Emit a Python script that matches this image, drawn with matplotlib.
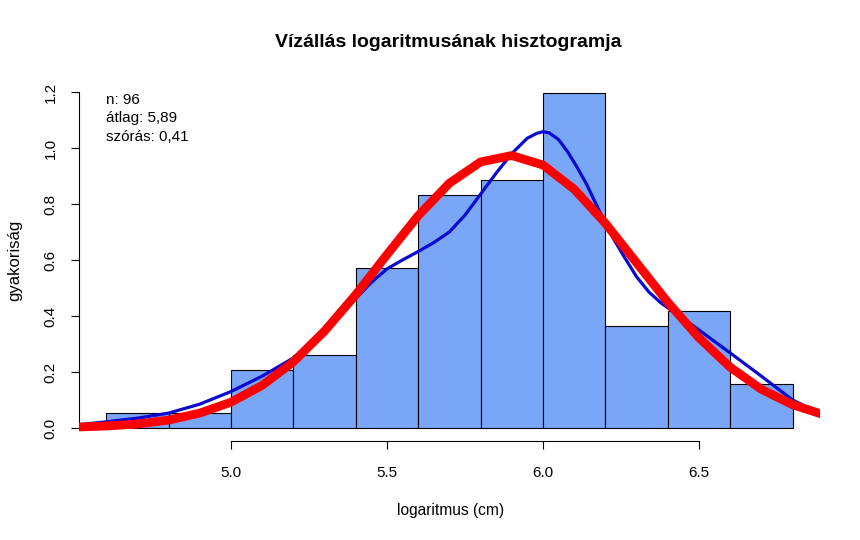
import matplotlib
matplotlib.use('Agg')
import matplotlib.pyplot as plt
import numpy as np

plt.rcParams['font.family'] = ['Liberation Sans', 'DejaVu Sans']

# histogram (density scale), breaks of 0.2
breaks = [4.6, 4.8, 5.0, 5.2, 5.4, 5.6, 5.8, 6.0, 6.2, 6.4, 6.6, 6.8]
counts = [1, 1, 4, 5, 11, 16, 17, 23, 7, 8, 3]
n_obs = 96

# kernel density curve
kde_x = [4.50, 4.60, 4.70, 4.80, 4.90, 5.00, 5.10, 5.20, 5.30, 5.35, 5.40,
         5.45, 5.50, 5.55, 5.60, 5.65, 5.70, 5.75, 5.80, 5.85, 5.90, 5.95,
         5.98, 6.00, 6.02, 6.05, 6.08, 6.11, 6.14, 6.17, 6.20, 6.23, 6.26,
         6.30, 6.34, 6.38, 6.45, 6.50, 6.60, 6.70, 6.80, 6.90]
kde_y = [0.010, 0.022, 0.035, 0.053, 0.085, 0.130, 0.185, 0.250, 0.340,
         0.400, 0.462, 0.520, 0.568, 0.600, 0.630, 0.662, 0.700, 0.760,
         0.835, 0.910, 0.980, 1.035, 1.052, 1.058, 1.054, 1.030, 0.985,
         0.930, 0.870, 0.800, 0.730, 0.668, 0.612, 0.540, 0.485, 0.445,
         0.390, 0.350, 0.268, 0.185, 0.100, 0.045]

# fitted normal curve
norm_x = [4.5, 4.6, 4.7, 4.8, 4.9, 5.0, 5.1, 5.2, 5.3, 5.4, 5.5, 5.6, 5.7,
          5.8, 5.9, 6.0, 6.1, 6.2, 6.3, 6.4, 6.5, 6.6, 6.7, 6.8, 6.9]
norm_y = [0.003, 0.007, 0.014, 0.028, 0.053, 0.092, 0.152, 0.236, 0.346,
          0.476, 0.619, 0.758, 0.874, 0.950, 0.973, 0.939, 0.853, 0.731,
          0.590, 0.449, 0.322, 0.217, 0.138, 0.083, 0.047]

info = ['n: 96', 'átlag: 5,89', 'szórás: 0,41']

breaks = np.array(breaks)
width = np.diff(breaks)
dens = np.array(counts) / (n_obs * width)

fig = plt.figure(figsize=(8.6, 5.4), dpi=100)
ax = fig.add_axes([0.0915, 0.1826, 0.862, 0.672])

ax.bar(breaks[:-1], dens, width=width, align='edge', color='#79a6f6',
       edgecolor='black', linewidth=0.8, zorder=1)
ax.plot(kde_x, kde_y, color='#0a0ad0', linewidth=2.3, zorder=2,
        solid_joinstyle='round')
ax.plot(norm_x, norm_y, color='#ff0000', linewidth=6.3, zorder=3,
        solid_joinstyle='round', solid_capstyle='butt')

ax.set_xlim(4.512, 6.888)
ax.set_ylim(-0.048, 1.248)

for s in ['top', 'right']:
    ax.spines[s].set_visible(False)
ax.spines['left'].set_bounds(0, 1.2)
ax.spines['bottom'].set_bounds(5.0, 6.5)
ax.spines['left'].set_linewidth(0.8)
ax.spines['bottom'].set_linewidth(0.8)

ax.set_xticks([5.0, 5.5, 6.0, 6.5])
ax.set_xticklabels(['5.0', '5.5', '6.0', '6.5'])
ax.set_yticks([0.0, 0.2, 0.4, 0.6, 0.8, 1.0, 1.2])
ax.set_yticklabels(['0.0', '0.2', '0.4', '0.6', '0.8', '1.0', '1.2'],
                   rotation=90, va='center')
ax.tick_params(axis='both', length=6, width=0.8, labelsize=11,
               colors='black')
ax.tick_params(axis='x', pad=12)
ax.tick_params(axis='y', pad=9)

for i, t in enumerate(info):
    ax.text(4.6, 1.172 - i * 0.066, t, fontsize=11, va='center',
            ha='left')

fig.text(0.521, 0.922, 'Vízállás logaritmusának hisztogramja',
         ha='center', va='center', fontsize=14, fontweight='bold')
fig.text(0.5235, 0.054, 'logaritmus (cm)', ha='center', va='center',
         fontsize=11.2)
fig.text(0.0174, 0.518, 'gyakoriság', ha='center', va='center',
         fontsize=12, rotation=90)

fig.savefig('out.png', dpi=100, facecolor='white')
